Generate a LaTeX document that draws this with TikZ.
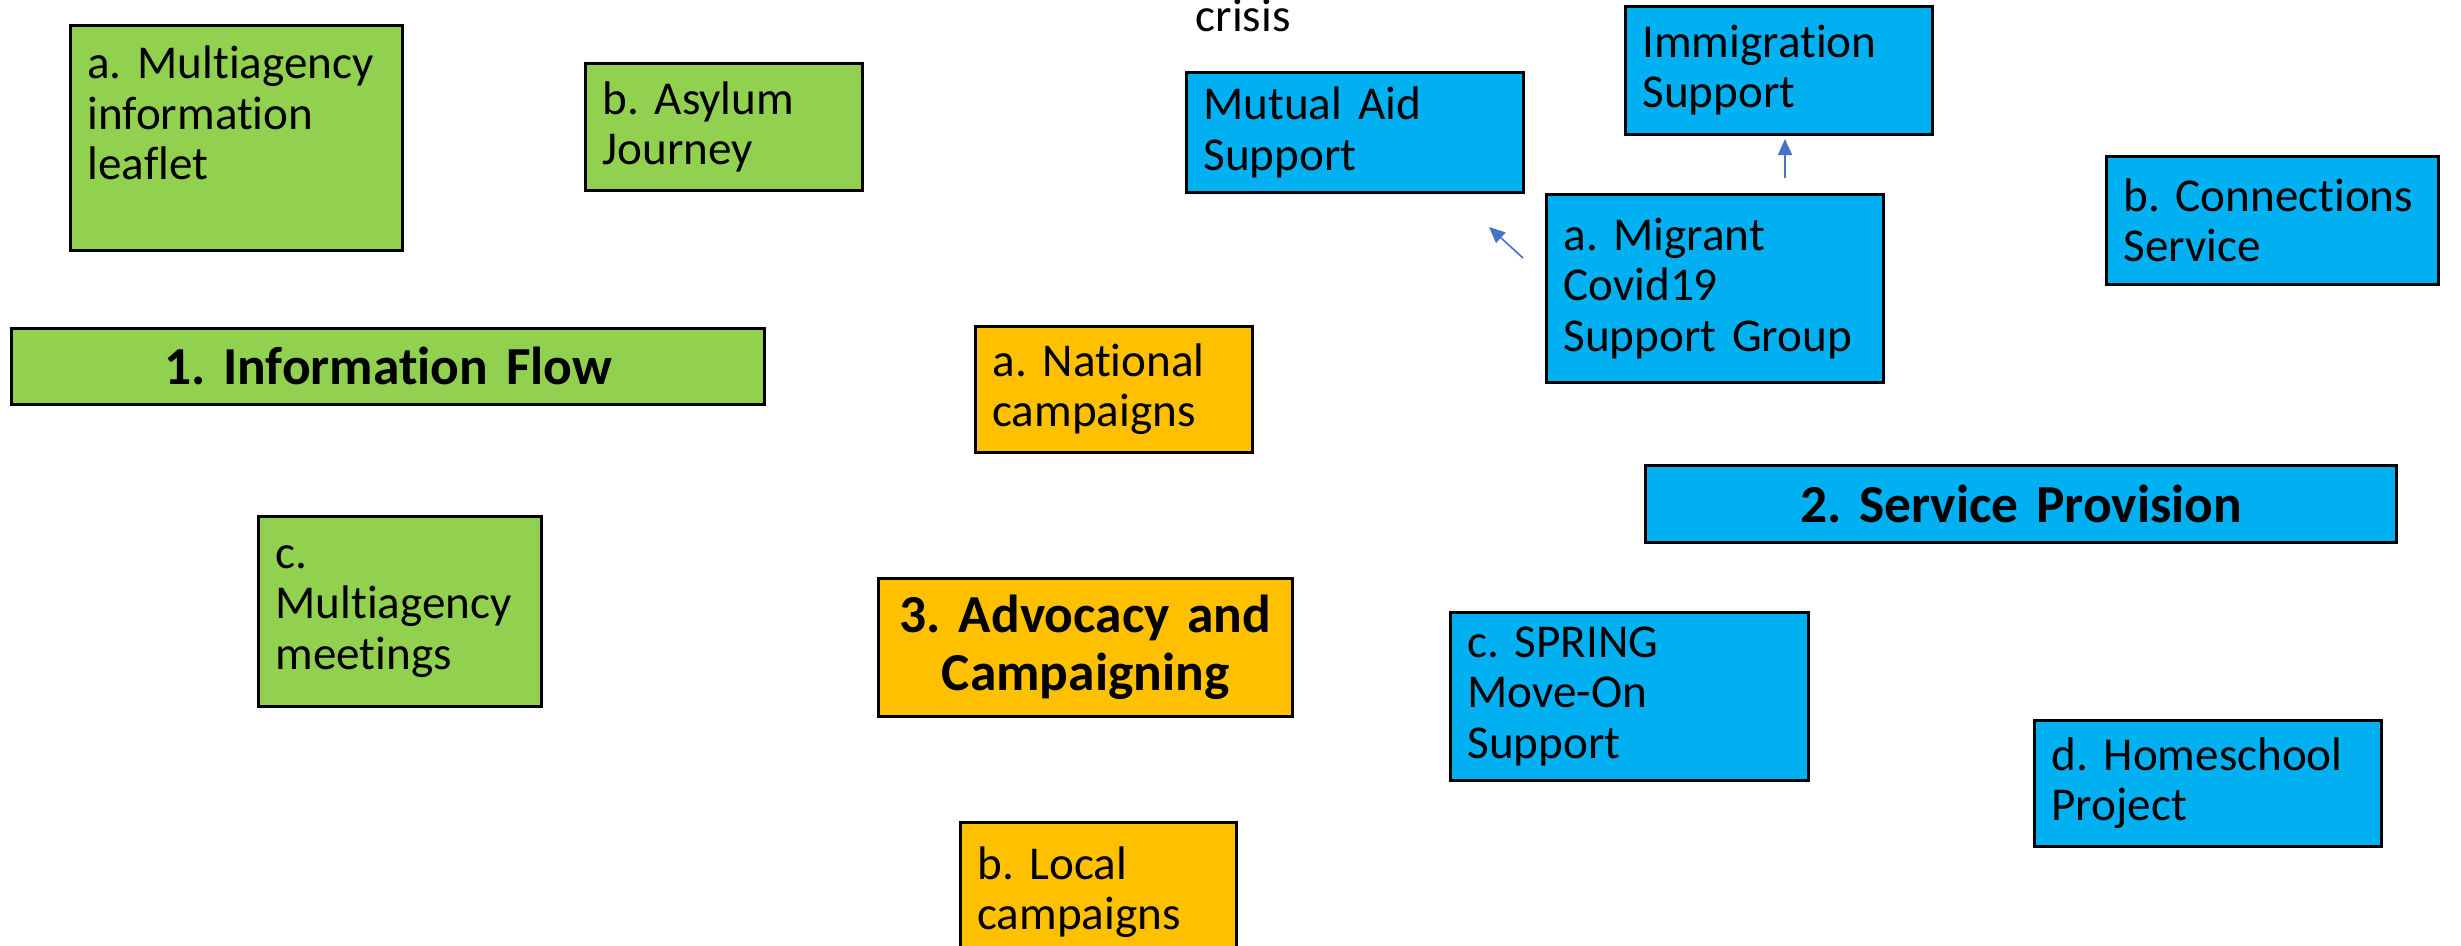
\documentclass[tikz,border=0pt]{standalone}
\usepackage{fontspec}
\setmainfont{Carlito}[Ligatures=NoCommon, WordSpace=0.45]
\usepackage{tikz}
\usetikzlibrary{arrows.meta}
\frenchspacing
\hyphenpenalty=10000
\exhyphenpenalty=10000
\definecolor{boxgreen}{HTML}{92D050}
\definecolor{boxblue}{HTML}{00B0F0}
\definecolor{boxorange}{HTML}{FFC000}
\definecolor{arrowblue}{HTML}{4472C4}
\pgfdeclarelayer{nodelayer}
\pgfdeclarelayer{edgelayer}
\pgfsetlayers{edgelayer,nodelayer,main}
\tikzstyle{item}=[draw=black, line width=0.8pt, anchor=north west, inner xsep=0.17cm, inner ysep=0pt, align=left, font=\fontsize{13.4}{14.3}\selectfont]
\tikzstyle{title}=[item, align=center, font=\fontsize{15.2}{16.5}\selectfont\bfseries]
\tikzset{green/.style={fill=boxgreen}, blue/.style={fill=boxblue}, orange/.style={fill=boxorange}}
\tikzset{arr/.style={draw=arrowblue, line width=0.45pt, -{Triangle[length=0.16cm, width=0.14cm]}}}

\begin{document}
\begin{tikzpicture}[x=0.01cm, y=-0.01cm]
	\useasboundingbox (0,0) rectangle (2461,946);
	\begin{pgfonlayer}{nodelayer}
		% 1. information flow
		\node [style=item, green, text width=2.98cm, minimum height=2.25cm] (leaflet) at (69, 24) {a. Multiagency\\information\\leaflet\\ \mbox{}};
		\node [style=item, green, text width=2.43cm, minimum height=1.27cm] (asylum) at (584, 62) {b. Asylum\\Journey};
		\node [style=title, green, text width=7.19cm, minimum height=0.76cm] (info) at (10, 327) {1. Information Flow};
		\node [style=item, green, text width=2.49cm, minimum height=1.90cm] (meetings) at (257, 515) {c.\\Multiagency\\meetings};
		% 3. advocacy
		\node [style=item, orange, text width=2.43cm, minimum height=1.26cm] (national) at (974, 325) {a. National\\campaigns};
		\node [style=title, orange, text width=3.80cm, minimum height=1.38cm] (advocacy) at (877, 577) {3. Advocacy and\\Campaigning};
		\node [style=item, orange, text width=2.42cm, minimum height=1.39cm] (local) at (959, 821) {b. Local\\campaigns};
		% 2. service provision
		\node [anchor=base west, inner sep=0pt, font=\fontsize{13.4}{14.3}\selectfont] (crisis) at (1195, 32) {crisis};
		\node [style=item, blue, text width=3.03cm, minimum height=1.20cm] (mutual) at (1185, 71) {Mutual Aid\\Support};
		\node [style=item, blue, text width=2.73cm, minimum height=1.28cm] (immigration) at (1624, 5) {Immigration\\Support};
		\node [style=item, blue, text width=3.03cm, minimum height=1.88cm] (migrant) at (1545, 193) {a. Migrant\\Covid19\\Support Group};
		\node [style=item, blue, text width=2.98cm, minimum height=1.28cm] (connections) at (2105, 155) {b. Connections\\Service};
		\node [style=title, blue, text width=7.17cm, minimum height=0.77cm] (service) at (1644, 464) {2. Service Provision};
		\node [style=item, blue, text width=3.24cm, minimum height=1.68cm] (spring) at (1449, 611) {c. SPRING\\Move-On\\Support};
		\node [style=item, blue, text width=3.13cm, minimum height=1.26cm] (homeschool) at (2033, 719) {d. Homeschool\\Project};
		\coordinate (a1) at (1523, 258);
		\coordinate (a2) at (1489, 227);
		\coordinate (b1) at (1785, 178);
		\coordinate (b2) at (1785, 139);
	\end{pgfonlayer}
	\begin{pgfonlayer}{edgelayer}
		\draw [arr] (a1) -- (a2);
		\draw [arr] (b1) -- (b2);
	\end{pgfonlayer}
\end{tikzpicture}
\end{document}
